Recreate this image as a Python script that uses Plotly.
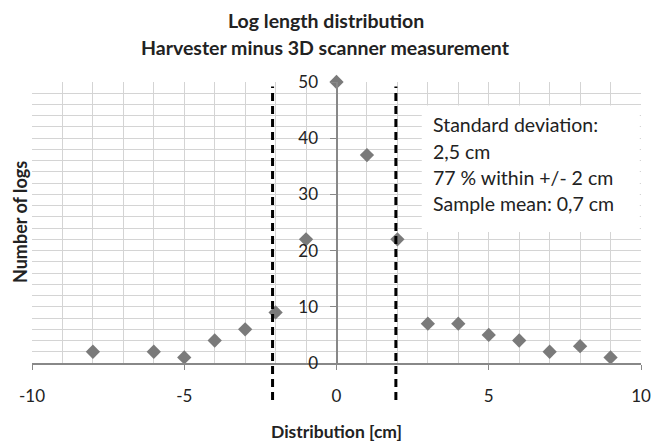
import plotly.graph_objects as go

# ---- data ----
x_vals = [-8, -6, -5, -4, -3, -2, -1, 0, 1, 2, 3, 4, 5, 6, 7, 8, 9]
counts = [2, 2, 1, 4, 6, 9, 22, 50, 37, 22, 7, 7, 5, 4, 2, 3, 1]
limits = [-2.1, 1.95]
x_ticks = [-10, -5, 0, 5, 10]
y_ticks = [0, 10, 20, 30, 40, 50]
box_lines = ["Standard deviation:", "2,5 cm", "77 % within +/- 2 cm", "Sample mean: 0,7 cm"]
title_lines = ["Log length distribution", "Harvester minus 3D scanner measurement"]

FONT = "Lato"
GRID = "#d4d4d4"
AXIS = "#888888"
TXT = "#222222"

XMIN, XMAX = -10, 10
YMIN, YMAX = 0, 50

W, H = 651, 441
ML, MR, MT, MB = 32, 10, 82, 78
PW, PH = W - ML - MR, H - MT - MB


def px_x(px):
    return (px - ML) / PW


def px_y(py):
    return (H - MB - py) / PH


fig = go.Figure()
fig.add_trace(go.Scatter(
    x=x_vals, y=counts, mode="markers",
    marker=dict(symbol="diamond", size=11, color="#7a7a7a", line=dict(width=0)),
    cliponaxis=False, showlegend=False,
))

shapes = []
# white text box covering the grid
shapes.append(dict(type="rect", xref="x", yref="y", x0=2.8, x1=9.96, y0=23.3, y1=45.8,
                   fillcolor="white", line=dict(width=0), layer="above"))
# dashed limit lines (extend below the axis)
for lx in limits:
    shapes.append(dict(type="line", xref="x", yref="paper", x0=lx, x1=lx,
                       y0=(-6.6 - YMIN) / (YMAX - YMIN), y1=(49.2 - YMIN) / (YMAX - YMIN),
                       line=dict(color="black", width=3, dash="8px,5px"), layer="above"))

annotations = []
for i, t in enumerate(box_lines):
    annotations.append(dict(x=3.1, y=42.35 - i * 4.65, xref="x", yref="y", text=t, showarrow=False,
                            xanchor="left", yanchor="middle",
                            font=dict(family=FONT, size=19.5, color=TXT)))
for i, t in enumerate(title_lines):
    annotations.append(dict(x=px_x(325.5), y=px_y(21 + i * 26), xref="paper", yref="paper",
                            xanchor="center", yanchor="middle", text="<b>" + t + "</b>",
                            showarrow=False, font=dict(family=FONT, size=19.5, color=TXT)))
annotations.append(dict(x=px_x(20), y=px_y(222), xref="paper", yref="paper", xanchor="center",
                        yanchor="middle", text="<b>Number of logs</b>", showarrow=False, textangle=-90,
                        font=dict(family=FONT, size=18, color=TXT)))
annotations.append(dict(x=px_x(336), y=px_y(431), xref="paper", yref="paper", xanchor="center",
                        yanchor="middle", text="<b>Distribution [cm]</b>", showarrow=False,
                        font=dict(family=FONT, size=17.5, color=TXT)))

fig.update_layout(
    width=W, height=H,
    margin=dict(l=ML, r=MR, t=MT, b=MB, autoexpand=False),
    paper_bgcolor="white", plot_bgcolor="white",
    font=dict(family=FONT, color=TXT),
    xaxis=dict(range=[XMIN, XMAX], tickvals=x_ticks, ticktext=[str(v) for v in x_ticks],
               showgrid=True, gridcolor=GRID, gridwidth=1, automargin=False,
               minor=dict(dtick=1, showgrid=True, gridcolor=GRID, gridwidth=1),
               showline=True, linecolor=AXIS, linewidth=2, ticks="outside", ticklen=5,
               tickcolor=AXIS, tickwidth=1, zeroline=False, ticklabelstandoff=12,
               tickfont=dict(family=FONT, size=17, color=TXT), fixedrange=True),
    yaxis=dict(range=[YMIN, YMAX], tickvals=y_ticks, ticktext=[str(v) for v in y_ticks],
               showgrid=True, gridcolor=GRID, gridwidth=1, automargin=False,
               minor=dict(dtick=2, showgrid=True, gridcolor=GRID, gridwidth=1),
               anchor="free", position=0.5, showline=True, linecolor=AXIS, linewidth=2,
               ticks="outside", ticklen=6, tickcolor=AXIS, tickwidth=1, zeroline=False,
               ticklabelstandoff=8,
               tickfont=dict(family=FONT, size=17, color=TXT), fixedrange=True),
    shapes=shapes,
    annotations=annotations,
)

fig.write_html("out.html", config={"displayModeBar": False},
               post_script="document.body.style.margin='0px';")
